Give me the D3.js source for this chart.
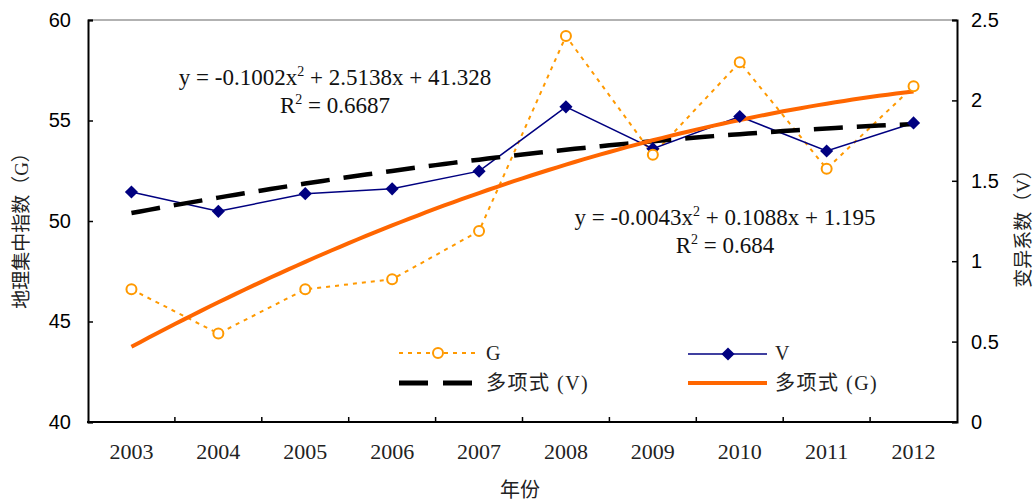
<!DOCTYPE html>
<html>
<head>
<meta charset="utf-8">
<script src="https://cdn.jsdelivr.net/npm/d3@7"></script>
<style>
  body { margin: 0; background: #fff; }
  svg { display: block; }
</style>
</head>
<body>
<svg id="chart" width="1035" height="503"></svg>
<script>
var years = ['2003', '2004', '2005', '2006', '2007', '2008', '2009', '2010', '2011', '2012'];
var gValues = [46.6, 44.4, 46.6, 47.1, 49.5, 59.2, 53.3, 57.9, 52.6, 56.7];
var vValues = [1.43, 1.31, 1.42, 1.45, 1.56, 1.96, 1.70, 1.90, 1.685, 1.86];
// polynomial trendline coefficients as shown on the chart (a x^2 + b x + c)
var gTrend = [-0.1002, 2.5138, 41.328];
var vTrend = [-0.0043, 0.1088, 1.195];
var leftTicks = [40, 45, 50, 55, 60];
var rightTicks = [0, 0.5, 1, 1.5, 2, 2.5];

(function() {
    var plotLeft = 88, plotRight = 957, plotTop = 20, plotBottom = 422;

    var svg = d3.select('#chart');

    var x = d3.scaleBand().domain(years).range([plotLeft, plotRight]);
    var yG = d3.scaleLinear().domain([40, 60]).range([plotBottom, plotTop]);
    var yV = d3.scaleLinear().domain([0, 2.5]).range([plotBottom, plotTop]);

    function cx(d, i) { return x(years[i]) + x.bandwidth() / 2; }

    // top border
    svg.append('line')
        .attr('x1', plotLeft).attr('x2', plotRight)
        .attr('y1', plotTop).attr('y2', plotTop)
        .attr('stroke', '#999').attr('stroke-width', 1.5);

    // left axis
    var gLeft = svg.append('g')
        .attr('transform', 'translate(' + plotLeft + ',0)')
        .call(d3.axisLeft(yG).tickValues(leftTicks).tickSize(-5).tickPadding(17).tickFormat(d3.format('d')));

    // right axis
    var gRight = svg.append('g')
        .attr('transform', 'translate(' + plotRight + ',0)')
        .call(d3.axisRight(yV).tickValues(rightTicks).tickSize(-5).tickPadding(14).tickFormat(function(d) { return String(d); }));

    [gLeft, gRight].forEach(function(g) {
        g.select('.domain').attr('stroke', '#000').attr('stroke-width', 2);
        g.selectAll('.tick line').attr('stroke', '#000').attr('stroke-width', 1.5);
        g.selectAll('.tick text')
            .attr('font-family', '"Liberation Sans", Arial, sans-serif')
            .attr('font-size', 20)
            .attr('fill', '#000');
    });

    // bottom axis: ticks at category boundaries
    var bottomG = svg.append('g').attr('transform', 'translate(0,' + plotBottom + ')');
    bottomG.append('line')
        .attr('x1', plotLeft - 1).attr('x2', plotRight + 1)
        .attr('stroke', '#000').attr('stroke-width', 2);
    bottomG.selectAll('.bt')
        .data(years.slice(1))
        .enter().append('line')
            .attr('x1', function(d) { return x(d); })
            .attr('x2', function(d) { return x(d); })
            .attr('y1', 0).attr('y2', -5)
            .attr('stroke', '#000').attr('stroke-width', 1.5);
    bottomG.selectAll('.bl')
        .data(years)
        .enter().append('text')
            .attr('x', function(d) { return x(d) + x.bandwidth() / 2; })
            .attr('y', 37)
            .attr('text-anchor', 'middle')
            .attr('font-family', '"Liberation Serif", "Times New Roman", serif')
            .attr('font-size', 22)
            .attr('fill', '#222')
            .text(function(d) { return d; });

    // axis titles
    var cjkFont = '"Liberation Serif", "Noto Sans CJK SC", serif';
    svg.append('text')
        .attr('x', 520).attr('y', 497)
        .attr('text-anchor', 'middle')
        .attr('font-family', cjkFont)
        .attr('font-size', 20)
        .attr('fill', '#222')
        .text('年份');

    svg.append('text')
        .attr('transform', 'translate(28,226) rotate(-90)')
        .attr('text-anchor', 'middle')
        .attr('font-family', cjkFont)
        .attr('font-size', 19)
        .attr('fill', '#222')
        .text('地理集中指数（G）');

    svg.append('text')
        .attr('transform', 'translate(1030,224) rotate(-90)')
        .attr('text-anchor', 'middle')
        .attr('font-family', cjkFont)
        .attr('font-size', 19)
        .attr('fill', '#222')
        .text('变异系数（V）');

    // G series
    var lineG = d3.line().x(cx).y(function(d) { return yG(d); });
    svg.append('path')
        .datum(gValues)
        .attr('d', lineG)
        .attr('fill', 'none')
        .attr('stroke', '#FF9900')
        .attr('stroke-width', 2)
        .attr('stroke-dasharray', '4,5');

    // V series
    var lineV = d3.line().x(cx).y(function(d) { return yV(d); });
    svg.append('path')
        .datum(vValues)
        .attr('d', lineV)
        .attr('fill', 'none')
        .attr('stroke', '#000080')
        .attr('stroke-width', 1.5);

    // trendlines
    function poly(c, t) { return c[0] * t * t + c[1] * t + c[2]; }
    var steps = d3.range(1, 10.01, 0.1);
    var tx = d3.scaleLinear().domain([1, 10]).range([cx(null, 0), cx(null, 9)]);

    svg.append('path')
        .datum(steps)
        .attr('d', d3.line().x(function(t) { return tx(t); }).y(function(t) { return yV(poly(vTrend, t)); }))
        .attr('fill', 'none')
        .attr('stroke', '#000')
        .attr('stroke-width', 4.5)
        .attr('stroke-dasharray', '29,14');

    svg.append('path')
        .datum(steps)
        .attr('d', d3.line().x(function(t) { return tx(t); }).y(function(t) { return yG(poly(gTrend, t)); }))
        .attr('fill', 'none')
        .attr('stroke', '#FF6600')
        .attr('stroke-width', 4);

    // markers
    var diamond = d3.symbol().type(d3.symbolDiamond2).size(110);
    svg.selectAll('.vm')
        .data(vValues)
        .enter().append('path')
            .attr('d', diamond)
            .attr('transform', function(d, i) { return 'translate(' + cx(d, i) + ',' + yV(d) + ')'; })
            .attr('fill', '#000080');

    svg.selectAll('.gm')
        .data(gValues)
        .enter().append('circle')
            .attr('cx', cx)
            .attr('cy', function(d) { return yG(d); })
            .attr('r', 5)
            .attr('fill', '#fff')
            .attr('stroke', '#FF9900')
            .attr('stroke-width', 2);

    // equations
    var eqFont = '"Liberation Serif", "Times New Roman", serif';
    function equation(xc, y, a, b, c, r2) {
        var t = svg.append('text')
            .attr('x', xc).attr('y', y)
            .attr('text-anchor', 'middle')
            .attr('font-family', eqFont)
            .attr('font-size', 23)
            .attr('fill', '#111');
        t.append('tspan').text('y = ' + a + 'x');
        t.append('tspan').attr('dy', -9).attr('font-size', 14).text('2');
        t.append('tspan').attr('dy', 9).text(' + ' + b + 'x + ' + c);
        var r = svg.append('text')
            .attr('x', xc).attr('y', y + 28)
            .attr('text-anchor', 'middle')
            .attr('font-family', eqFont)
            .attr('font-size', 23)
            .attr('fill', '#111');
        r.append('tspan').text('R');
        r.append('tspan').attr('dy', -9).attr('font-size', 14).text('2');
        r.append('tspan').attr('dy', 9).text(' = ' + r2);
    }
    equation(335, 85, '-0.1002', '2.5138', '41.328', '0.6687');
    equation(725, 225, '-0.0043', '0.1088', '1.195', '0.684');

    // legend
    var legend = svg.append('g');

    legend.append('line')
        .attr('x1', 399).attr('x2', 475).attr('y1', 353).attr('y2', 353)
        .attr('stroke', '#FF9900').attr('stroke-width', 2).attr('stroke-dasharray', '4,5');
    legend.append('circle')
        .attr('cx', 438).attr('cy', 353).attr('r', 5)
        .attr('fill', '#fff').attr('stroke', '#FF9900').attr('stroke-width', 2);

    legend.append('line')
        .attr('x1', 399).attr('x2', 472).attr('y1', 383).attr('y2', 383)
        .attr('stroke', '#000').attr('stroke-width', 5).attr('stroke-dasharray', '29,15');

    legend.append('line')
        .attr('x1', 688).attr('x2', 767).attr('y1', 354).attr('y2', 354)
        .attr('stroke', '#000080').attr('stroke-width', 1.5);
    legend.append('path')
        .attr('d', diamond)
        .attr('transform', 'translate(728,354)')
        .attr('fill', '#000080');

    legend.append('line')
        .attr('x1', 688).attr('x2', 767).attr('y1', 383).attr('y2', 383)
        .attr('stroke', '#FF6600').attr('stroke-width', 4);

    var legendItems = [
        { x: 486, y: 360, t: 'G' },
        { x: 486, y: 390, t: '多项式 (V)' },
        { x: 775, y: 360, t: 'V' },
        { x: 775, y: 390, t: '多项式 (G)' }
    ];
    legend.selectAll('.lt')
        .data(legendItems)
        .enter().append('text')
            .attr('x', function(d) { return d.x; })
            .attr('y', function(d) { return d.y; })
            .attr('font-family', cjkFont)
            .attr('font-size', 20)
            .attr('letter-spacing', 1.5)
            .attr('fill', '#222')
            .text(function(d) { return d.t; });
})();
</script>
</body>
</html>
